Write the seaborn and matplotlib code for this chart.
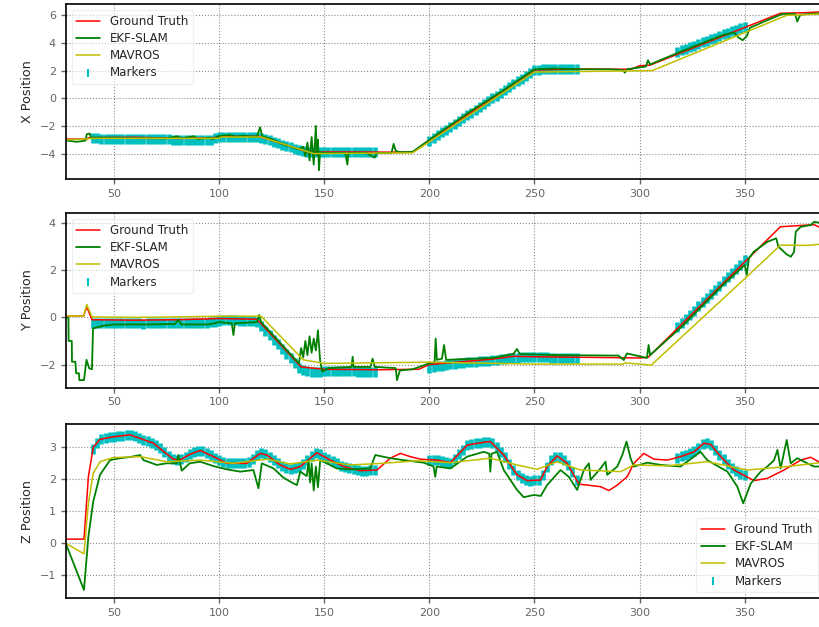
import matplotlib
matplotlib.use('Agg')
import matplotlib.pyplot as plt
import seaborn as sns

# ---- X position ----
gt_x_t = [27, 37, 38, 60, 80, 97, 100, 119, 142, 192, 250, 270, 296, 300, 305, 367, 380, 386]
gt_x = [-2.95, -2.95, -2.85, -2.82, -2.9, -2.88, -2.75, -2.75, -3.88, -3.9, 2.05, 2.12, 2.1, 2.35, 2.4, 6.15, 6.2, 6.25]

ekf_x_t = [27, 30, 32, 35, 36.5, 37, 38.5, 39, 50, 60, 75, 80, 82, 88, 90, 95, 97, 100, 105, 108, 112,
           116, 118, 119.5, 120.5, 125, 130, 135, 138, 140, 141, 142, 143, 144, 145, 146, 146.5, 147,
           147.5, 148, 150, 160, 161, 161.5, 170, 174, 175, 182, 183, 184, 186, 192, 200, 220, 235, 250,
           260, 270, 285, 292, 293, 294, 303, 304, 305, 320, 340, 345, 347, 349, 351, 352.5, 360, 368,
           374, 375, 376.5, 380, 386]
ekf_x = [-3.05, -3.1, -3.15, -3.1, -3.05, -2.6, -2.55, -2.85, -2.85, -2.88, -2.9, -2.75, -2.9, -2.75, -2.95,
         -2.85, -2.95, -2.72, -2.65, -2.78, -2.7, -2.78, -2.75, -2.1, -2.75, -2.95, -3.3, -3.55, -3.7, -3.5,
         -4.2, -3.2, -4.5, -2.8, -4.8, -2.0, -4.1, -3.0, -5.2, -3.9, -3.95, -3.95, -4.8, -3.95, -3.95, -4.3,
         -3.95, -3.95, -3.3, -3.8, -3.9, -3.88, -3.0, -0.9, 0.55, 2.1, 2.15, 2.1, 2.1, 2.05, 1.85, 2.1, 2.3,
         2.75, 2.45, 3.4, 4.6, 4.75, 4.4, 4.2, 4.5, 5.1, 5.6, 6.1, 6.1, 5.55, 6.05, 6.1, 6.15]

mav_x_t = [27, 37, 39, 100, 101, 120, 145, 192, 250, 306, 370, 386]
mav_x = [-3.0, -2.95, -2.9, -2.9, -2.8, -2.8, -4.0, -3.95, 1.9, 2.0, 6.0, 6.1]

# ---- Y position ----
gt_y_t = [27, 35.5, 37, 39.5, 60, 80, 100, 118, 139, 150, 175, 195, 200, 230, 240, 250, 300, 304, 367, 383, 386]
gt_y = [0.05, 0.05, 0.45, -0.1, -0.12, -0.1, -0.05, -0.08, -2.1, -2.2, -2.22, -2.2, -2.0, -1.77, -1.65,
        -1.67, -1.72, -1.7, 3.84, 3.93, 3.8]

ekf_y_t = [27, 28.3, 28.4, 29.9, 30, 31.6, 32, 33.3, 33.5, 35.7, 36.9, 38.2, 39.5, 40, 45, 50, 65, 79, 80.5,
           82, 95, 100, 106, 106.8, 107.5, 118, 119, 120, 138, 139, 140, 141, 142, 143, 144, 145, 146, 147,
           148, 149, 152, 163, 163.5, 164, 172, 173, 174, 184, 184.6, 186, 192, 200, 202.5, 203, 203.6, 206,
           207, 208, 230, 240, 241.7, 243, 260, 290, 292.5, 294, 303.5, 304.3, 305, 320, 340, 350, 351, 352,
           354.3, 360.8, 365, 366, 370, 372, 373.5, 374.3, 376.7, 381.4, 383, 386]
ekf_y = [0.0, 0.0, -1.0, -1.0, -1.88, -1.88, -2.37, -2.37, -2.66, -2.66, -1.8, -2.16, -2.2, -0.47, -0.35,
         -0.3, -0.3, -0.28, -0.1, -0.3, -0.3, -0.2, -0.25, -0.75, -0.25, -0.2, 0.1, -0.2, -1.95, -1.3, -1.7,
         -1.0, -1.6, -0.8, -1.5, -0.9, -1.4, -0.55, -1.8, -2.3, -2.15, -2.1, -1.67, -2.1, -2.1, -1.75, -2.1,
         -2.15, -2.66, -2.25, -2.2, -1.95, -1.9, -0.9, -1.8, -1.75, -1.17, -1.8, -1.72, -1.55, -1.34, -1.55,
         -1.6, -1.62, -1.81, -1.53, -1.72, -1.17, -1.6, -0.4, 1.4, 2.22, 1.8, 2.5, 2.78, 3.2, 3.35, 3.0, 2.67,
         2.57, 2.78, 3.63, 3.84, 3.91, 4.05, 4.0]

mav_y_t = [27, 35.5, 37, 39.5, 60, 80, 100, 120, 140, 150, 200, 250, 292, 293, 303, 305.5, 351, 367, 380, 386]
mav_y = [0.05, 0.05, 0.55, 0.02, 0.0, 0.02, 0.05, 0.05, -1.8, -1.95, -1.9, -1.98, -1.98, -1.93, -2.0, -2.03,
         1.72, 3.06, 3.05, 3.1]

# ---- Z position ----
gt_z_t = [27, 35.7, 37.8, 40.1, 43.3, 49.7, 57.6, 62.4, 68.7, 78.2, 81.3, 86, 91, 97.3, 103.7, 113.2, 119.5,
          122.7, 129, 134, 138.6, 146.5, 152.9, 159.2, 167.1, 175.1, 181.4, 186.2, 190.9, 195.7, 203.7, 210,
          218, 225.9, 229, 235.4, 241.7, 246.5, 252.9, 256, 260.8, 265.6, 271.1, 275.1, 281.4, 285.4, 289.4,
          294.1, 297.3, 302, 306.8, 313.2, 319.5, 325.9, 330.6, 333.8, 338.6, 344.9, 354.4, 360.8, 368.7,
          376.7, 381.4, 386]
gt_z = [0.13, 0.13, 2.08, 3.0, 3.25, 3.33, 3.39, 3.28, 3.13, 2.63, 2.6, 2.78, 2.9, 2.71, 2.5, 2.5, 2.81, 2.76,
        2.45, 2.31, 2.4, 2.83, 2.6, 2.4, 2.27, 2.29, 2.66, 2.81, 2.71, 2.63, 2.6, 2.52, 3.07, 3.16, 3.18, 2.76,
        2.14, 1.96, 1.98, 2.4, 2.73, 2.5, 1.85, 1.82, 1.77, 1.65, 1.82, 2.08, 2.5, 2.81, 2.63, 2.6, 2.71, 2.86,
        3.13, 3.09, 2.71, 2.29, 1.96, 2.03, 2.29, 2.6, 2.69, 2.52]

ekf_z_t = [27, 35.7, 37.8, 40.1, 43.3, 48.1, 52.9, 58, 62.4, 64, 70.3, 75, 79.8, 80.6, 82.2, 86, 91, 97, 103.7,
           110, 116.3, 118.7, 120.3, 125.9, 130.6, 135.4, 137, 138.6, 141.7, 142.5, 143.3, 144, 145, 146, 147,
           148.1, 156, 162.4, 171.9, 174.3, 181.4, 187.8, 197.3, 202, 202.8, 203.5, 210, 218, 225.9, 228.5,
           229, 229.6, 232.2, 235.4, 241.7, 244.9, 249.7, 253, 256, 262.4, 266.3, 270.3, 273.5, 275.9, 276.7,
           281.4, 283.8, 284.6, 289.4, 291.8, 293.8, 295.7, 297.3, 303.7, 310, 319.5, 325.9, 329, 332.2,
           341.8, 346.5, 349.3, 352.9, 357.6, 360.8, 364, 365.6, 367.1, 370, 371.9, 375, 379.8, 383, 386]
ekf_z = [0.0, -1.46, 0.21, 1.3, 2.14, 2.6, 2.66, 2.7, 2.76, 2.6, 2.45, 2.5, 2.5, 2.76, 2.27, 2.5, 2.55, 2.42,
         2.31, 2.24, 2.29, 1.72, 2.5, 2.34, 2.05, 1.87, 1.82, 2.24, 2.1, 2.6, 1.9, 2.5, 1.65, 2.4, 1.75, 2.6,
         2.34, 2.31, 2.34, 2.76, 2.66, 2.6, 2.52, 2.4, 2.08, 2.4, 2.34, 2.71, 2.86, 2.8, 2.24, 2.8, 2.86, 2.29,
         1.67, 1.44, 1.51, 1.48, 1.82, 2.29, 2.08, 1.67, 2.29, 2.5, 1.98, 2.34, 2.55, 2.14, 2.4, 2.76, 3.18,
         2.66, 2.4, 2.52, 2.45, 2.4, 2.71, 2.86, 2.6, 2.24, 1.77, 1.25, 1.87, 2.24, 2.4, 2.6, 2.92, 2.34, 3.23,
         2.5, 2.66, 2.5, 2.4, 2.4]

mav_z_t = [27, 35.7, 37.8, 40.1, 43.3, 49.7, 62.4, 75.1, 91, 106.8, 122.7, 133.8, 146.5, 162.4, 178, 194.1,
           210, 229, 241.7, 251.3, 260.8, 271.9, 291, 297.3, 313.2, 332.2, 351.3, 370.3, 386]
mav_z = [0.0, -0.33, 1.25, 2.19, 2.55, 2.68, 2.71, 2.55, 2.6, 2.5, 2.63, 2.48, 2.6, 2.45, 2.5, 2.58, 2.52,
         2.66, 2.45, 2.31, 2.55, 2.29, 2.24, 2.45, 2.42, 2.55, 2.29, 2.4, 2.52]

# ---- marker observations (every 2 s while markers were visible) ----
marker_t = [40, 42, 44, 46, 48, 50, 52, 54, 56, 58, 60, 62, 64, 66, 68, 70, 72, 74, 76, 78,
            80, 82, 84, 86, 88, 90, 92, 94, 96, 98, 100, 102, 104, 106, 108, 110, 112, 114, 116, 118,
            120, 122, 124, 126, 128, 130, 132, 134, 136, 138, 140, 142, 144, 146, 148, 150, 152, 154, 156, 158,
            160, 162, 164, 166, 168, 170, 172, 174,
            200, 202, 204, 206, 208, 210, 212, 214, 216, 218, 220, 222, 224, 226, 228, 230, 232, 234,
            236, 238, 240, 242, 244, 246, 248, 250, 252, 254, 256, 258, 260, 262, 264, 266, 268, 270,
            318, 320, 322, 324, 326, 328, 330, 332, 334, 336, 338, 340, 342, 344, 346, 348, 350]
marker_x = [-2.9, -2.9, -2.91, -2.92, -2.92, -2.92, -2.92, -2.93, -2.93, -2.93, -2.94, -2.95, -2.95, -2.95,
            -2.96, -2.96, -2.97, -2.98, -2.98, -2.99, -3.0, -3.02, -3.02, -3.02, -3.03, -3.03, -3.03, -3.02,
            -3.0, -2.9, -2.8, -2.78, -2.78, -2.78, -2.78, -2.78, -2.78, -2.79, -2.8, -2.8,
            -2.85, -2.95, -3.05, -3.15, -3.25, -3.35, -3.45, -3.55, -3.65, -3.75, -3.83, -3.88,
            -3.9, -3.9, -3.88, -3.87, -3.86, -3.85, -3.85, -3.85, -3.85, -3.85, -3.85, -3.85, -3.85, -3.85,
            -3.85, -3.85,
            -3.08, -2.87, -2.67, -2.46, -2.26, -2.05, -1.85, -1.64, -1.44, -1.23, -1.03, -0.82, -0.62, -0.41,
            -0.21, 0.0, 0.2, 0.41, 0.61, 0.82, 1.02, 1.23, 1.43, 1.64, 1.84, 2.02, 2.08, 2.1, 2.1, 2.12, 2.12,
            2.12, 2.1, 2.12, 2.14, 2.14,
            3.35, 3.46, 3.58, 3.7, 3.81, 3.93, 4.04, 4.16, 4.27, 4.39, 4.5, 4.62, 4.73, 4.85, 4.96, 5.08, 5.18]
marker_y = [-0.22, -0.23, -0.24, -0.25, -0.25, -0.25, -0.26, -0.25, -0.25, -0.25, -0.26, -0.26, -0.27, -0.26,
            -0.25, -0.24, -0.24, -0.24, -0.23, -0.22, -0.23, -0.25, -0.24, -0.24, -0.24, -0.23, -0.23, -0.22,
            -0.21, -0.2, -0.16, -0.13, -0.12, -0.12, -0.13, -0.14, -0.15, -0.16, -0.17, -0.18,
            -0.37, -0.57, -0.76, -0.96, -1.15, -1.35, -1.54, -1.74, -1.93, -2.13, -2.24, -2.28, -2.3, -2.3,
            -2.3, -2.29, -2.28, -2.28, -2.27, -2.27, -2.27, -2.28, -2.29, -2.3, -2.3, -2.31, -2.32, -2.32,
            -2.13, -2.11, -2.08, -2.05, -2.02, -1.99, -1.96, -1.94, -1.92, -1.91, -1.9, -1.88, -1.87, -1.85,
            -1.83, -1.81, -1.79, -1.77, -1.76, -1.74, -1.72, -1.71, -1.7, -1.7, -1.7, -1.7, -1.7, -1.7, -1.7,
            -1.71, -1.71, -1.72, -1.72, -1.72, -1.72, -1.72,
            -0.42, -0.24, -0.07, 0.11, 0.29, 0.47, 0.64, 0.82, 1.0, 1.17, 1.35, 1.53, 1.7, 1.88, 2.06, 2.24, 2.41]
marker_z = [2.95, 3.15, 3.26, 3.3, 3.32, 3.33, 3.35, 3.36, 3.38, 3.39, 3.34, 3.29, 3.24, 3.2, 3.15, 3.08,
            2.98, 2.86, 2.74, 2.64, 2.61, 2.63, 2.7, 2.78, 2.84, 2.88, 2.88, 2.82, 2.75, 2.68, 2.6, 2.54,
            2.5, 2.5, 2.5, 2.5, 2.5, 2.53, 2.65, 2.76, 2.81, 2.78, 2.7, 2.6, 2.5, 2.42, 2.36, 2.31, 2.34,
            2.38, 2.48, 2.6, 2.72, 2.82, 2.78, 2.7, 2.62, 2.56, 2.5, 2.43, 2.38, 2.35, 2.32, 2.29, 2.27,
            2.27, 2.28, 2.29,
            2.61, 2.6, 2.6, 2.57, 2.54, 2.52, 2.62, 2.78, 2.93, 3.07, 3.1, 3.12, 3.14, 3.16, 3.17, 3.15,
            3.02, 2.86, 2.7, 2.48, 2.3, 2.12, 2.03, 1.97, 1.96, 1.97, 1.98, 2.12, 2.4, 2.6, 2.7, 2.7, 2.6,
            2.46, 2.22, 1.98,
            2.68, 2.72, 2.76, 2.81, 2.87, 2.98, 3.1, 3.12, 3.08, 2.93, 2.76, 2.62, 2.48, 2.35, 2.25, 2.18, 2.12]

sns.set_style('ticks', {'axes.grid': True, 'grid.linestyle': ':', 'grid.color': '0.55',
                        'axes.edgecolor': 'black', 'xtick.color': '0.4', 'ytick.color': '0.4',
                        'axes.labelcolor': '0.15'})
plt.rcParams['font.family'] = ['DejaVu Sans']

fig, axes = plt.subplots(3, 1, figsize=(8.19, 6.27), dpi=100)
positions = [[0.0802, 0.7145, 0.9253, 0.2791],
             [0.0802, 0.3817, 0.9253, 0.2781],
             [0.0802, 0.0458, 0.9253, 0.278]]

panels = [
    (gt_x_t, gt_x, ekf_x_t, ekf_x, mav_x_t, mav_x, marker_x, 'X Position', (-5.84, 6.82), [-4, -2, 0, 2, 4, 6], 'upper left'),
    (gt_y_t, gt_y, ekf_y_t, ekf_y, mav_y_t, mav_y, marker_y, 'Y Position', (-2.98, 4.41), [-2, 0, 2, 4], 'upper left'),
    (gt_z_t, gt_z, ekf_z_t, ekf_z, mav_z_t, mav_z, marker_z, 'Z Position', (-1.72, 3.73), [-1, 0, 1, 2, 3], 'lower right'),
]

for ax, pos, p in zip(axes, positions, panels):
    gt_t, gt, ekf_t, ekf, mav_t, mav, mk, ylab, ylim, yt, loc = p
    ax.set_position(pos)
    sns.lineplot(x=gt_t, y=gt, color='r', lw=1.1, label='Ground Truth', ax=ax, estimator=None, sort=False)
    sns.lineplot(x=ekf_t, y=ekf, color='g', lw=1.3, label='EKF-SLAM', ax=ax, estimator=None, sort=False)
    sns.lineplot(x=mav_t, y=mav, color='y', lw=1.1, label='MAVROS', ax=ax, estimator=None, sort=False)
    sns.scatterplot(x=marker_t, y=mk, marker='|', s=45, color='c', linewidth=3.3, label='Markers', ax=ax,
                    zorder=1)
    ax.set_xlim(27, 387.5)
    ax.set_ylim(*ylim)
    ax.set_yticks(yt)
    ax.set_xticks([50, 100, 150, 200, 250, 300, 350])
    ax.set_ylabel(ylab, fontsize=9.2)
    ax.set_xlabel('')
    ax.tick_params(labelsize=8, length=3.5, width=1)
    for s in ax.spines.values():
        s.set_visible(True)
        s.set_color('black')
        s.set_linewidth(1.2)
    leg = ax.legend(loc=loc, fontsize=8.6, labelspacing=0.35, frameon=True, framealpha=0.6,
                    edgecolor='0.9')
    mh = leg.legend_handles[3]
    mh.set_linewidth(1.5)
    mh.set_sizes([30])

fig.savefig('out.png', dpi=100)
